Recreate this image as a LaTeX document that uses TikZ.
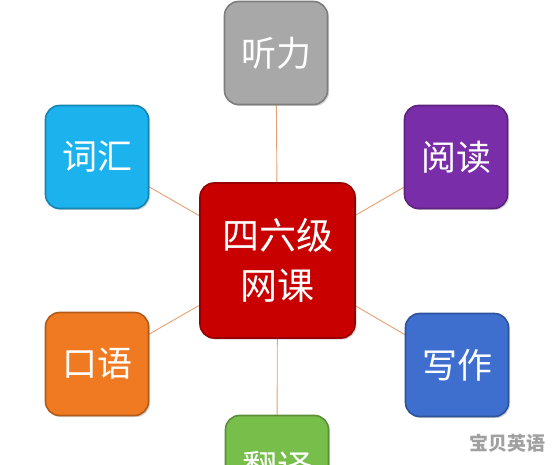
\documentclass[tikz,border=0pt]{standalone}
\usepackage{fontspec}
\newfontfamily\cjk{Noto Sans CJK SC}
\usetikzlibrary{shadows,backgrounds}
\definecolor{cred}{HTML}{C80000}
\definecolor{cgray}{HTML}{A8A8A8}
\definecolor{cpurple}{HTML}{7A2DA8}
\definecolor{ccyan}{HTML}{1CB2EE}
\definecolor{corange}{HTML}{F07A22}
\definecolor{cblue}{HTML}{3E6FCF}
\definecolor{cgreen}{HTML}{78BE4A}
\definecolor{cline}{HTML}{E8A070}
\definecolor{cwm}{HTML}{A0A0A0}
\tikzset{
  box/.style={rounded corners=14pt, minimum width=#1, minimum height=#1,
    inner sep=0pt, align=center, text=white, font=\cjk\fontsize{35}{50}\selectfont,
    line width=1.6pt, drop shadow={shadow xshift=1.5pt, shadow yshift=-1.5pt, opacity=0.35}},
  conn/.style={draw=cline, line width=0.9pt}
}
\begin{document}
\begin{tikzpicture}[x=1pt,y=-1pt]
\useasboundingbox (0,0) rectangle (554,465);
\clip (0,0) rectangle (554,465);
\node[box=155pt, fill=cred, draw=cred!75!black, font=\cjk\fontsize{37}{50}\selectfont] (c) at (277.5,260.5) {四六级\\网课};
\node[box=103pt, fill=cgray, draw=cgray!75!black] (t) at (276,53) {听力};
\node[box=103pt, fill=cpurple, draw=cpurple!75!black] (pr) at (456,157) {阅读};
\node[box=103pt, fill=ccyan, draw=ccyan!75!black] (cy) at (97,157) {词汇};
\node[box=103pt, fill=corange, draw=corange!75!black] (or) at (97,364) {口语};
\node[box=103pt, fill=cblue, draw=cblue!75!black] (bl) at (457,365) {写作};
\node[box=103pt, fill=cgreen, draw=cgreen!75!black] (gr) at (277,467) {翻译};
\begin{pgfonlayer}{background}
\fill[white] (0,0) rectangle (554,465);
\draw[conn] (c.center) -- (t.center);
\draw[conn] (c.center) -- (pr.center);
\draw[conn] (c.center) -- (cy.center);
\draw[conn] (c.center) -- (or.center);
\draw[conn] (c.center) -- (bl.center);
\draw[conn] (c.center) -- (gr.center);
\end{pgfonlayer}
\node[font=\cjk\bfseries\fontsize{19}{22}\selectfont, text=cwm] (wm) at (507,443) {宝贝英语};
\end{tikzpicture}
\end{document}
